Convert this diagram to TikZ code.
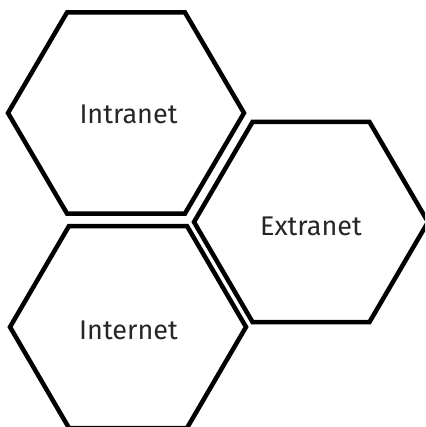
\documentclass[tikz,border=0pt]{standalone}
\usepackage{fontspec}
\setmainfont{Fira Sans}
\definecolor{txt}{HTML}{262626}
\begin{document}
\begin{tikzpicture}[x=1pt,y=-1pt,
  hexline/.style={draw=black,line width=4.5pt,line join=miter},
  label/.style={font=\fontsize{27}{31}\selectfont,text=txt,anchor=base,inner sep=0pt}]
\useasboundingbox (0,0) rectangle (425,427);
\clip (0,0) rectangle (425,427);
% Intranet hexagon
\draw[hexline] (8,113) -- (67,12.5) -- (185,12.5) -- (244,113) -- (185,213.5) -- (67,213.5) -- cycle;
% Extranet hexagon
\draw[hexline] (194,222) -- (252.5,122) -- (369.5,122) -- (428,222) -- (369.5,322) -- (252.5,322) -- cycle;
% Internet hexagon
\draw[hexline] (10,327) -- (69,226) -- (187,226) -- (246,327) -- (187,428) -- (69,428) -- cycle;
\node[label] (intranet) at (128.5,124) {Intranet};
\node[label] (extranet) at (311,235) {Extranet};
\node[label] (internet) at (128.5,339) {Internet};
\end{tikzpicture}
\end{document}
